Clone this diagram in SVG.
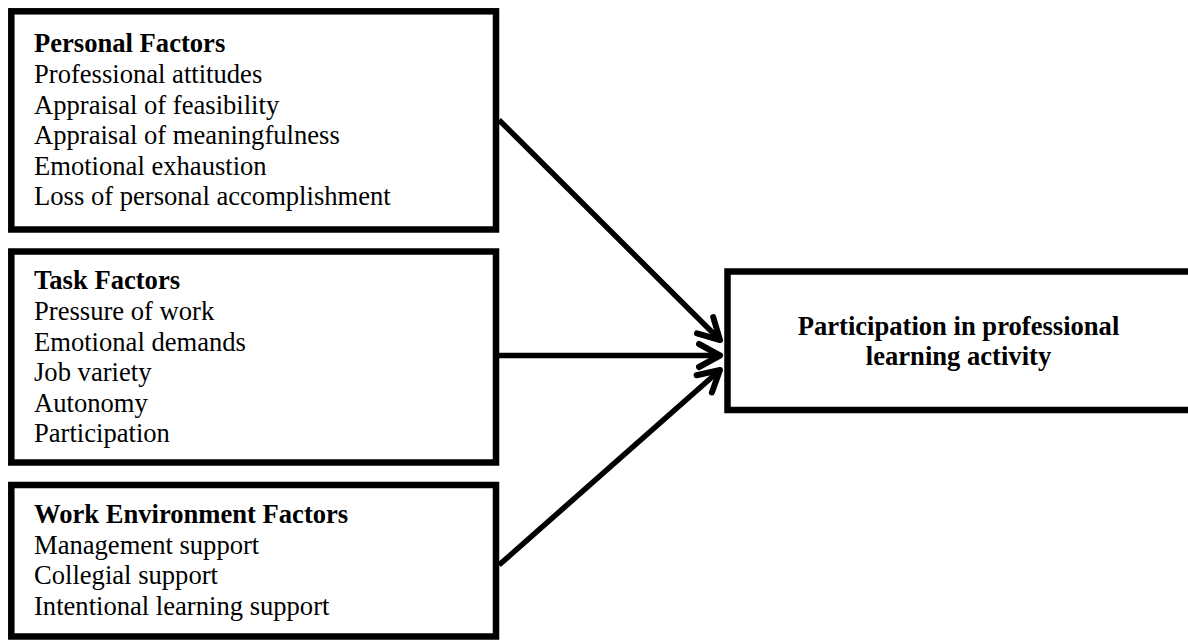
<svg xmlns="http://www.w3.org/2000/svg" width="1188" height="640" viewBox="0 0 1188 640">
<style>
.box{fill:#fff;stroke:#000;stroke-width:6.5}
.t{font-family:"Liberation Serif","Times New Roman",serif;font-size:26.6px;fill:#000}
.b{font-weight:bold}
.c{stroke:#000;stroke-width:5.5;fill:none}
</style>
<defs>
<marker id="ah" markerUnits="userSpaceOnUse" markerWidth="40" markerHeight="40" viewBox="-30 -20 40 40" refX="0" refY="0" orient="auto">
<path d="M-21,-11.5 L0,0 L-21,11.5" fill="none" stroke="#000" stroke-width="6" stroke-linecap="round" stroke-linejoin="round"/>
</marker>
</defs>
<rect width="1188" height="640" fill="#fff"/>
<g id="connectors">
<line class="c" x1="499" y1="120" x2="720" y2="340" marker-end="url(#ah)"/>
<line class="c" x1="499" y1="355.5" x2="720" y2="355.5" marker-end="url(#ah)"/>
<line class="c" x1="499" y1="565" x2="720" y2="370" marker-end="url(#ah)"/>
</g>
<g id="personal">
<rect class="box" x="11.3" y="11.3" width="484.7" height="218.2"/>
<text class="t b" x="34" y="52.3">Personal Factors</text>
<text class="t" x="34" y="82.9">Professional attitudes</text>
<text class="t" x="34" y="113.5">Appraisal of feasibility</text>
<text class="t" x="34" y="144.1">Appraisal of meaningfulness</text>
<text class="t" x="34" y="174.7">Emotional exhaustion</text>
<text class="t" x="34" y="205.3">Loss of personal accomplishment</text>
</g>
<g id="task">
<rect class="box" x="11.3" y="251.5" width="484.7" height="211"/>
<text class="t b" x="34" y="289.3">Task Factors</text>
<text class="t" x="34" y="319.9">Pressure of work</text>
<text class="t" x="34" y="350.5">Emotional demands</text>
<text class="t" x="34" y="381.1">Job variety</text>
<text class="t" x="34" y="411.7">Autonomy</text>
<text class="t" x="34" y="442.3">Participation</text>
</g>
<g id="environment">
<rect class="box" x="11.3" y="485" width="484.7" height="151.5"/>
<text class="t b" x="34" y="523">Work Environment Factors</text>
<text class="t" x="34" y="553.5">Management support</text>
<text class="t" x="34" y="584">Collegial support</text>
<text class="t" x="34" y="614.5">Intentional learning support</text>
</g>
<g id="outcome">
<rect class="box" x="727.5" y="271.5" width="470" height="138.5"/>
<text class="t b" x="958.5" y="335" text-anchor="middle">Participation in professional</text>
<text class="t b" x="958.5" y="365" text-anchor="middle">learning activity</text>
</g>
</svg>
